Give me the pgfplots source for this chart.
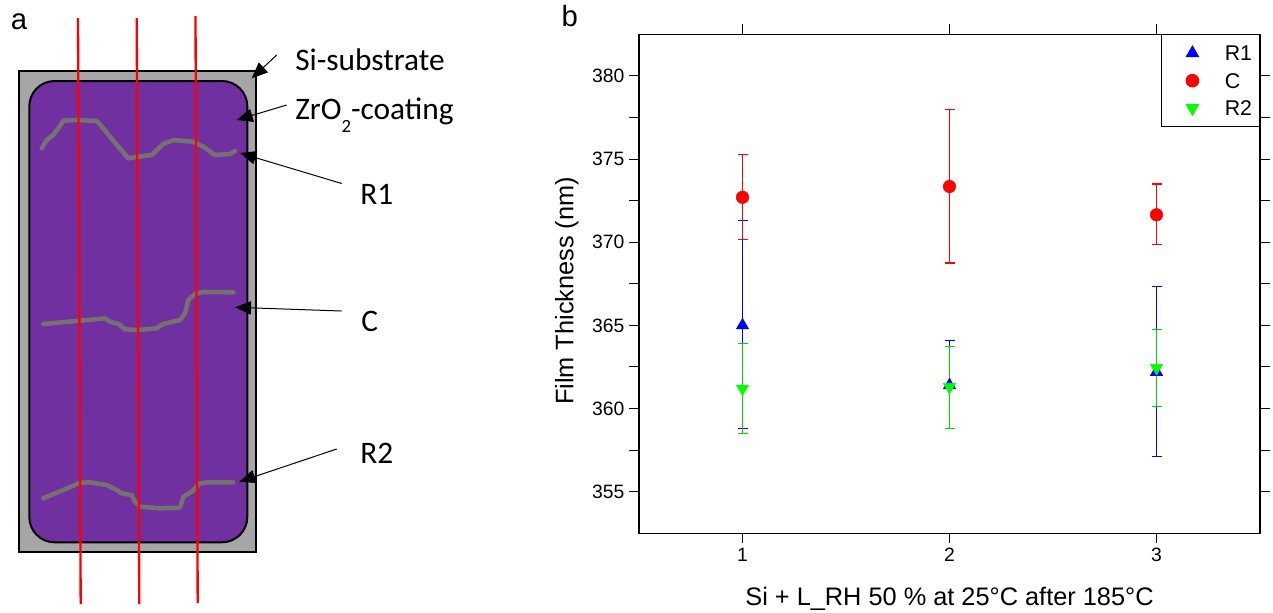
\documentclass[border=0pt]{standalone}
\usepackage{pgfplots}
\usepackage{pgfplotstable}
\pgfplotsset{compat=1.18}
\usepackage{fontspec}
\setmainfont{Liberation Sans}
\newfontfamily\calibri{Carlito}
\usetikzlibrary{arrows.meta}
\definecolor{sigray}{RGB}{166,166,166}
\definecolor{zrpurple}{RGB}{112,48,160}
\definecolor{wavegray}{RGB}{118,113,113}
\definecolor{rtwo}{RGB}{0,255,0}
\definecolor{rtwoerr}{RGB}{0,215,0}

\pgfplotstableread{
x y ep em
1 365.0 6.3 6.2
2 361.4 2.7 2.6
3 362.2 5.15 5.1
}\rone
\pgfplotstableread{
x y ep em
1 372.7 2.55 2.55
2 373.35 4.65 4.6
3 371.65 1.85 1.8
}\cdata
\pgfplotstableread{
x y ep em
1 361.2 2.7 2.7
2 361.3 2.45 2.5
3 362.45 2.3 2.3
}\rtwodata

\begin{document}
\begin{tikzpicture}
% ---------------- panel a (schematic, pixel coordinates) ----------------
\begin{axis}[at={(0pt,0pt)}, anchor=north west, scale only axis,
  width=352.5pt, height=459.75pt, xmin=0, xmax=470, ymin=0, ymax=613,
  y dir=reverse, axis lines=none, clip=false]
\addplot[draw=black, fill=sigray, line width=1.5pt] coordinates {(18.7,71)(255.7,71)(255.7,551.7)(18.7,551.7)} -- cycle;
\addplot[draw=black, fill=zrpurple, line width=1.5pt, rounded corners=19pt] coordinates {(138,81)(247.3,81)(247.3,542.3)(29.3,542.3)(29.3,81)} -- cycle;
% R1 profile
\addplot[wavegray, line width=3.4pt, line join=round, line cap=round] coordinates {
(41.7,148.3)(46.7,140)(53.3,135)(58.3,128.3)(63.3,120.7)(76.7,120)(96.7,121)(103.3,128.3)(110,136.7)(118.3,146.7)(128.3,158.3)(138.3,156.7)(151.7,155)(163.3,144)(173.3,140)(193.3,141.7)(203.3,146.7)(215,155)(230,154)(235,151)};
% C profile
\addplot[wavegray, line width=3.4pt, line join=round, line cap=round] coordinates {
(43.3,324)(80,320.7)(105,318.3)(110,321.7)(118.3,324)(125,329.3)(138.3,330)(156.7,328.3)(163.3,324)(180,320)(185,313.3)(188.3,300)(195,294)(203.3,292)(233.3,292.3)};
% R2 profile
\addplot[wavegray, line width=3.4pt, line join=round, line cap=round] coordinates {
(43.3,498.3)(63.3,490)(80,482.7)(90,482.3)(106.7,485)(116.7,490)(121.7,493.3)(131.7,495)(135,501.7)(140,506.7)(160,508.3)(180,507.7)(183.3,496.7)(191.7,491.7)(200,483.3)(208.3,482.3)(233.3,482.3)};
% red measurement lines
\addplot[red, line width=1.75pt] coordinates {(78,18)(80.7,604)};
\addplot[red, line width=1.75pt] coordinates {(136.7,18)(139.3,604)};
\addplot[red, line width=1.75pt] coordinates {(195.5,16)(197.7,603)};
% arrows
\addplot[black, line width=0.75pt, -{Triangle[length=12pt,width=10pt]}] coordinates {(276.7,55)(251.7,78.3)};
\addplot[black, line width=0.75pt, -{Triangle[length=12pt,width=10pt]}] coordinates {(286.7,105)(236.7,120)};
\addplot[black, line width=0.75pt, -{Triangle[length=12pt,width=10pt]}] coordinates {(341.7,183.5)(240,153)};
\addplot[black, line width=0.75pt, -{Triangle[length=12pt,width=10pt]}] coordinates {(341.7,311)(235,307.3)};
\addplot[black, line width=0.75pt, -{Triangle[length=12pt,width=10pt]}] coordinates {(336.7,449)(239.3,481.7)};
% labels
\node[anchor=base west, inner sep=0pt, font=\calibri\fontsize{23.5}{28}\selectfont] at (axis cs:295,70.6) {Si-substrate};
\node[anchor=base west, inner sep=0pt, font=\calibri\fontsize{23.5}{28}\selectfont] at (axis cs:295,119.6) {ZrO\raisebox{-10pt}{\fontsize{14}{14}\selectfont 2}-coating};
\node[anchor=base west, inner sep=0pt, font=\calibri\fontsize{23.5}{28}\selectfont] at (axis cs:360,204.7) {R1};
\node[anchor=base west, inner sep=0pt, font=\calibri\fontsize{23.5}{28}\selectfont] at (axis cs:361,331.4) {C};
\node[anchor=base west, inner sep=0pt, font=\calibri\fontsize{23.5}{28}\selectfont] at (axis cs:360,463.5) {R2};
\node[anchor=base west, inner sep=0pt, font=\fontsize{22}{26}\selectfont] at (axis cs:10.5,29.4) {a};
\node[anchor=base west, inner sep=0pt, font=\fontsize{22}{26}\selectfont] at (axis cs:561.3,26.7) {b};
\end{axis}
% ---------------- panel b (data) ----------------
\begin{axis}[at={(479.25pt,-399.975pt)}, anchor=south west, scale only axis,
  width=465.75pt, height=374.25pt,
  xmin=0.5, xmax=3.5, ymin=352.5, ymax=382.5,
  xtick={1,2,3}, ytick={355,360,...,380},
  minor ytick={357.5,362.5,367.5,372.5,377.5},
  tick align=outside, major tick length=7.5pt, minor tick length=7.5pt,
  tick style={black, line width=0.75pt},
  axis line style={line width=1pt},
  /pgf/number format/assume math mode=true,
  ticklabel style={font=\fontsize{14.5}{17}\selectfont},
  xlabel={Si + L\_RH 50 \% at 25°C after 185°C},
  ylabel={Film Thickness (nm)},
  xlabel style={at={(axis description cs:0.5,-0.1437)}, anchor=base, font=\fontsize{19}{22}\selectfont},
  ylabel style={at={(axis description cs:-0.1058,0.4856)}, anchor=base, rotate=0, font=\fontsize{19}{22}\selectfont},
  legend style={at={(1,1)}, anchor=north east, draw=black, line width=0.75pt,
    font=\fontsize{16}{19}\selectfont, inner xsep=0pt, inner ysep=3.5pt,
    row sep=0pt, column sep=0pt,
    nodes={inner sep=0pt, text depth=0pt, text width=26pt, align=left},
    cells={anchor=west}},
  legend image code/.code={\path[draw=none, fill=none] (0pt,-10.3pt) rectangle (47.3pt,10.3pt); \draw[#1] plot coordinates {(23pt,0pt)};},
]
\addplot[only marks, mark=triangle*, mark size=5.3pt, mark options={draw=blue, fill=blue},
  error bars/.cd, y dir=both, y explicit,
  error bar style={blue, line width=0.8pt},
  error mark options={rotate=90, blue, mark size=3.75pt, line width=0.8pt}]
  table[x=x, y=y, y error plus=ep, y error minus=em]{\rone};
\addlegendentry{R1}
\addplot[only marks, mark=*, mark size=4.7pt, mark options={draw=red, fill=red},
  error bars/.cd, y dir=both, y explicit,
  error bar style={red, line width=0.8pt},
  error mark options={rotate=90, red, mark size=3.75pt, line width=0.8pt}]
  table[x=x, y=y, y error plus=ep, y error minus=em]{\cdata};
\addlegendentry{C}
\addplot[only marks, mark=triangle*, mark size=5.3pt, mark options={draw=rtwo, fill=rtwo, rotate=180},
  error bars/.cd, y dir=both, y explicit,
  error bar style={rtwoerr, line width=0.8pt},
  error mark options={rotate=90, rtwoerr, mark size=3.75pt, line width=0.8pt}]
  table[x=x, y=y, y error plus=ep, y error minus=em]{\rtwodata};
\addlegendentry{R2}
\end{axis}
\pgfresetboundingbox
\path[use as bounding box] (0pt,0pt) rectangle (954.75pt,-459.75pt);
\end{tikzpicture}
\end{document}
